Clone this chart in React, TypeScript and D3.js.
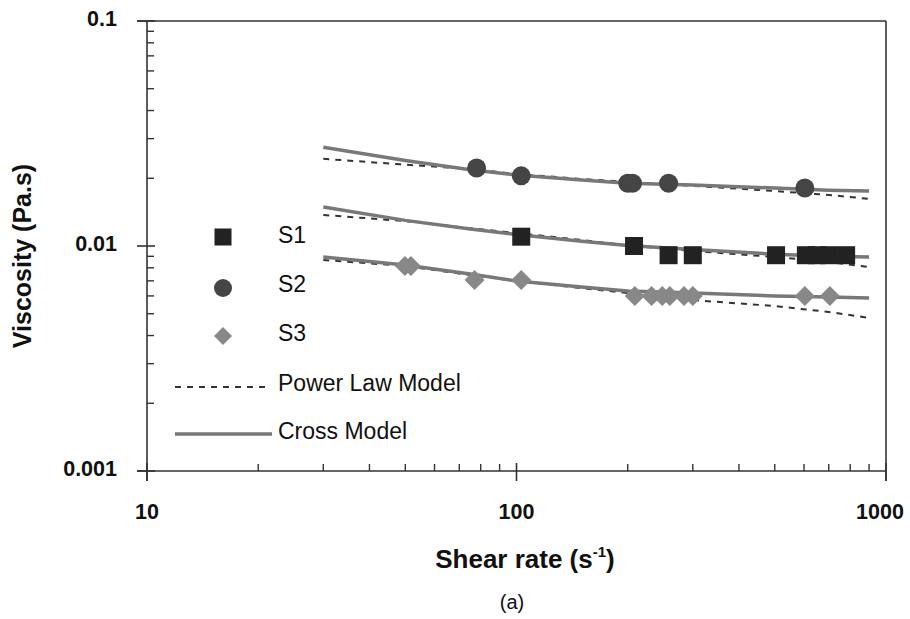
import React from "react";
import * as d3 from "d3";

const modelShear = [30, 50, 75, 100, 150, 200, 300, 500, 700, 900];
const s1Cross = [0.0149, 0.013, 0.0119, 0.01125, 0.0105, 0.01005, 0.00965, 0.0092, 0.009, 0.00894];
const s1Power = [0.01374, 0.0129, 0.012, 0.01142, 0.01064, 0.01005, 0.0095, 0.00894, 0.0085, 0.00807];
const s2Cross = [0.0275, 0.024, 0.0218, 0.0207, 0.01965, 0.019, 0.01866, 0.0181, 0.0177, 0.01755];
const s2Power = [0.0244, 0.023, 0.022, 0.0209, 0.01986, 0.01925, 0.0185, 0.01755, 0.01686, 0.0162];
const s3Cross = [0.00894, 0.00824, 0.00751, 0.00699, 0.00657, 0.00631, 0.00618, 0.006, 0.00593, 0.00587];
const s3Power = [0.00867, 0.00815, 0.00743, 0.00699, 0.0065, 0.00618, 0.00575, 0.00541, 0.00509, 0.00479];

const s1Shear = [103, 208, 258, 300, 504, 607, 650, 700, 780];
const s1Visc = [0.011, 0.01, 0.0091, 0.0091, 0.0091, 0.0091, 0.0091, 0.0091, 0.0091];
const s2Shear = [78, 103, 200, 206, 258, 603];
const s2Visc = [0.0222, 0.0205, 0.019, 0.019, 0.019, 0.0181];
const s3Shear = [49.9, 51.8, 77, 103, 209, 232, 248, 260, 284, 300, 603, 705];
const s3Visc = [0.00815, 0.00815, 0.00706, 0.00706, 0.006, 0.006, 0.006, 0.006, 0.006, 0.006, 0.006, 0.006];

const xTicks = [10, 100, 1000];
const xTickLabels = ["10", "100", "1000"];
const yTicks = [0.001, 0.01, 0.1];
const yTickLabels = ["0.001", "0.01", "0.1"];
const legendSeries = ["S1", "S2", "S3"];

const C1 = "#222222";
const C2 = "#454545";
const C3 = "#888888";
const CROSS = "#787878";
const POWER = "#333333";
const AXIS = "#333333";

export default function App() {
  const x = d3.scaleLog().domain([10, 1000]).range([147, 886]);
  const y = d3.scaleLog().domain([0.001, 0.1]).range([471, 21]);
  const line = d3
    .line<[number, number]>()
    .x((d) => x(d[0]))
    .y((d) => y(d[1]));
  const pts = (vals: number[]) => modelShear.map((s, i) => [s, vals[i]] as [number, number]);

  const minorX: number[] = [];
  for (const dec of [10, 100]) for (let k = 2; k <= 9; k++) minorX.push(dec * k);
  const minorY: number[] = [];
  for (const dec of [0.001, 0.01]) for (let k = 2; k <= 9; k++) minorY.push(dec * k);

  const font = "'Liberation Sans', Arial, sans-serif";
  const x0 = x(10);
  const x1 = x(1000);
  const y0 = y(0.001);
  const y1 = y(0.1);

  const square = (cx: number, cy: number, s: number, fill: string, key: any) => (
    <rect key={key} x={cx - s / 2} y={cy - s / 2} width={s} height={s} fill={fill} />
  );
  const diamond = (cx: number, cy: number, r: number, fill: string, key: any) => (
    <path key={key} d={`M${cx},${cy - r}L${cx + r},${cy}L${cx},${cy + r}L${cx - r},${cy}Z`} fill={fill} />
  );

  return (
    <svg
      width={910}
      height={619}
      viewBox="0 0 910 619"
      style={{ position: "absolute", left: 0, top: 0, display: "block" }}
    >
      <rect x={0} y={0} width={910} height={619} fill="#fff" />
      {/* model lines */}
      {[s1Power, s2Power, s3Power].map((v, i) => (
        <path key={"p" + i} d={line(pts(v)) || ""} fill="none" stroke={POWER} strokeWidth={2} strokeDasharray="6,6" />
      ))}
      {[s1Cross, s2Cross, s3Cross].map((v, i) => (
        <path key={"c" + i} d={line(pts(v)) || ""} fill="none" stroke={CROSS} strokeWidth={3.5} />
      ))}
      {/* markers */}
      {s3Shear.map((s, i) => diamond(x(s), y(s3Visc[i]), 10, C3, "d" + i))}
      {s1Shear.map((s, i) => square(x(s), y(s1Visc[i]), 18, C1, "s" + i))}
      {s2Shear.map((s, i) => (
        <circle key={"o" + i} cx={x(s)} cy={y(s2Visc[i])} r={9.5} fill={C2} />
      ))}
      {/* axes frame */}
      <line x1={x0 - 10} x2={x1} y1={y0} y2={y0} stroke={AXIS} strokeWidth={1.6} />
      <line x1={x0 - 10} x2={x1} y1={y1} y2={y1} stroke={AXIS} strokeWidth={1.6} />
      <line x1={x0} x2={x0} y1={y1} y2={y0 + 10} stroke={AXIS} strokeWidth={1.6} />
      <line x1={x1} x2={x1} y1={y1} y2={y0 + 10} stroke={AXIS} strokeWidth={1.6} />
      {yTicks.map((t) => (
        <line key={"yt" + t} x1={x0 - 10} x2={x0 + 8} y1={y(t)} y2={y(t)} stroke={AXIS} strokeWidth={1.6} />
      ))}
      {xTicks.map((t) => (
        <line key={"xt" + t} x1={x(t)} x2={x(t)} y1={y0 - 8} y2={y0 + 10} stroke={AXIS} strokeWidth={1.6} />
      ))}
      {minorX.map((t) => (
        <line key={"mx" + t} x1={x(t)} x2={x(t)} y1={y0 - 7} y2={y0} stroke={AXIS} strokeWidth={1.4} />
      ))}
      {minorY.map((t) => (
        <line key={"my" + t} x1={x0} x2={x0 + 7} y1={y(t)} y2={y(t)} stroke={AXIS} strokeWidth={1.4} />
      ))}
      {/* tick labels */}
      {yTicks.map((t, i) => (
        <text key={"yl" + t} x={117} y={y(t) + 5} textAnchor="end" fontFamily={font} fontWeight="bold" fontSize={21.5} fill="#111">
          {yTickLabels[i]}
        </text>
      ))}
      {xTicks.map((t, i) => (
        <text key={"xl" + t} x={i === 2 ? x(t) - 6 : x(t)} y={519} textAnchor="middle" fontFamily={font} fontWeight="bold" fontSize={21.5} fill="#111">
          {xTickLabels[i]}
        </text>
      ))}
      {/* axis titles */}
      <text x={525} y={568} textAnchor="middle" fontFamily={font} fontWeight="bold" fontSize={26} fill="#111">
        Shear rate (s
        <tspan fontSize={15} dy={-11}>-1</tspan>
        <tspan dy={11}>)</tspan>
      </text>
      <text x={512} y={609} textAnchor="middle" fontFamily={font} fontSize={20} fill="#111">
        (a)
      </text>
      <text transform="translate(31,256) rotate(-90)" textAnchor="middle" fontFamily={font} fontWeight="bold" fontSize={25} fill="#111">
        Viscosity (Pa.s)
      </text>
      {/* legend */}
      {square(223, 237, 17, C1, "ls")}
      <circle cx={223} cy={288} r={9} fill={C2} />
      {diamond(223, 336, 9, C3, "ld")}
      {legendSeries.map((s, i) => (
        <text key={"lg" + s} x={278} y={243 + i * 49} fontFamily={font} fontSize={23} fill="#111">
          {s}
        </text>
      ))}
      <line x1={175} x2={267} y1={387} y2={387} stroke={POWER} strokeWidth={2} strokeDasharray="6,6" />
      <line x1={175} x2={272} y1={434} y2={434} stroke={CROSS} strokeWidth={3.5} />
      <text x={278} y={391} fontFamily={font} fontSize={23} fill="#111">
        Power Law Model
      </text>
      <text x={278} y={439} fontFamily={font} fontSize={23} fill="#111">
        Cross Model
      </text>
    </svg>
  );
}
